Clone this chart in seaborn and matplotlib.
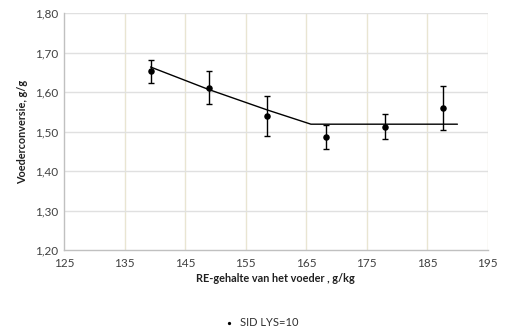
import matplotlib
matplotlib.use("Agg")
import matplotlib.pyplot as plt
import seaborn as sns
import pandas as pd
import numpy as np

# Measured feed conversion per crude-protein level
re_gehalte = [139.3, 148.9, 158.6, 168.3, 178.0, 187.6]
voederconversie = [1.653, 1.612, 1.539, 1.486, 1.512, 1.559]
err_low = [0.030, 0.041, 0.051, 0.031, 0.031, 0.055]
err_high = [0.029, 0.042, 0.052, 0.031, 0.032, 0.056]

# Fitted response curve (broken-line with plateau)
fit_x = [139.3, 148.9, 158.6, 165.8, 190.0]
fit_y = [1.664, 1.607, 1.555, 1.519, 1.519]

x_ticks = [125, 135, 145, 155, 165, 175, 185, 195]
y_ticks = [1.20, 1.30, 1.40, 1.50, 1.60, 1.70, 1.80]

sns.set_theme(style="white")
plt.rcParams["font.family"] = ["Lato", "DejaVu Sans"]

fig = plt.figure(figsize=(5.05, 3.34), dpi=100)
ax = fig.add_axes([0.1267, 0.2515, 0.839, 0.7085])

df = pd.DataFrame({"x": re_gehalte, "y": voederconversie})
fit = pd.DataFrame({"x": fit_x, "y": fit_y})

ax.errorbar(re_gehalte, voederconversie, yerr=[err_low, err_high], fmt="none",
            ecolor="black", elinewidth=1.0, capsize=2.5, capthick=1.0, zorder=3)
sns.lineplot(data=fit, x="x", y="y", ax=ax, color="black", linewidth=1.0,
             sort=False, zorder=2)
sns.scatterplot(data=df, x="x", y="y", ax=ax, color="black", s=22,
                edgecolor="black", linewidth=0, zorder=4, label="SID LYS=10")

ax.set_xlim(125, 195)
ax.set_ylim(1.20, 1.80)
ax.set_xticks(x_ticks)
ax.set_yticks(y_ticks)
ax.set_xticklabels([str(t) for t in x_ticks], fontsize=8.5)
ax.set_yticklabels([f"{t:.2f}".replace(".", ",") for t in y_ticks], fontsize=8.5)
ax.tick_params(axis="both", length=0, pad=4, colors="#404040")
ax.tick_params(axis="x", pad=6)

for xt in x_ticks[1:]:
    ax.axvline(xt, color="#e9e5d2", linewidth=1.0, zorder=0)
for yt in y_ticks[1:]:
    ax.axhline(yt, color="#e0e0e0", linewidth=1.0, zorder=0)

for side in ["top", "right"]:
    ax.spines[side].set_visible(False)
for side in ["left", "bottom"]:
    ax.spines[side].set_color("#c0c0c0")
    ax.spines[side].set_linewidth(1.0)

ax.set_xlabel("RE-gehalte van het voeder , g/kg", fontsize=7.8, fontweight="bold",
              color="#202020", labelpad=3)
ax.set_ylabel("Voederconversie, g/g", fontsize=7.8, fontweight="bold",
              color="#202020", labelpad=5)

leg = ax.legend(loc="center", bbox_to_anchor=(0.512, 0.035),
                bbox_transform=fig.transFigure, frameon=False, fontsize=8,
                handletextpad=0.0, markerscale=0.5)
for t in leg.get_texts():
    t.set_color("#303030")

fig.savefig("out.png", dpi=100)
